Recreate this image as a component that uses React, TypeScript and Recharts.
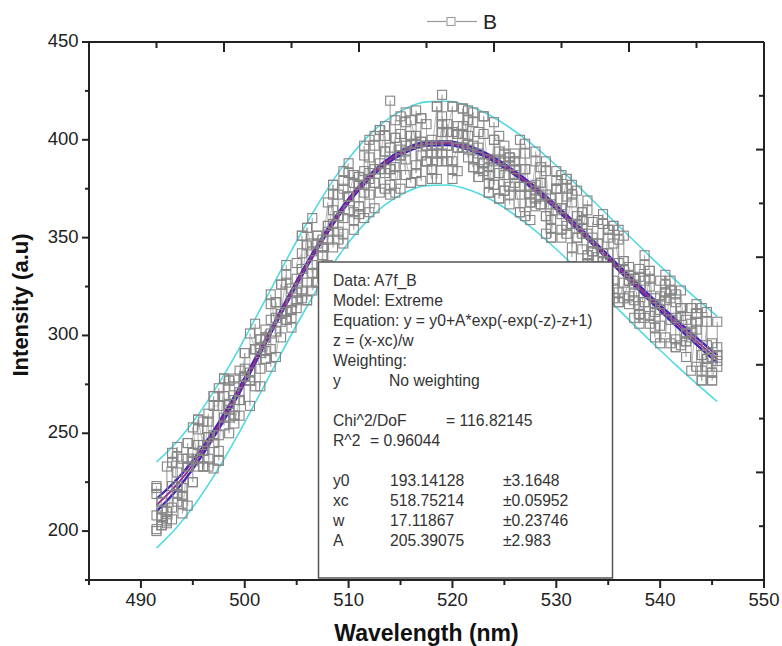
import { ComposedChart, Label, Line, XAxis, YAxis } from "recharts"

// measured spectrum: six readings per wavelength step
const WAVELENGTH = [
  491.5, 492, 492.5, 493, 493.5, 494, 494.5, 495, 495.5, 496, 496.5, 497, 497.5, 498, 498.5, 499, 499.5, 500, 500.5,
  501, 501.5, 502, 502.5, 503, 503.5, 504, 504.5, 505, 505.5, 506, 506.5, 507, 507.5, 508, 508.5, 509, 509.5, 510,
  510.5, 511, 511.5, 512, 512.5, 513, 513.5, 514, 514.5, 515, 515.5, 516, 516.5, 517, 517.5, 518, 518.5, 519, 519.5,
  520, 520.5, 521, 521.5, 522, 522.5, 523, 523.5, 524, 524.5, 525, 525.5, 526, 526.5, 527, 527.5, 528, 528.5, 529,
  529.5, 530, 530.5, 531, 531.5, 532, 532.5, 533, 533.5, 534, 534.5, 535, 535.5, 536, 536.5, 537, 537.5, 538, 538.5,
  539, 539.5, 540, 540.5, 541, 541.5, 542, 542.5, 543, 543.5, 544, 544.5, 545, 545.5,
]
const INTENSITY_A = [
  200, 215, 206, 223, 243, 218, 237, 236, 233, 244,
  260, 269, 264, 278, 258, 259, 267, 291, 281, 293,
  283, 303, 301, 302, 307, 331, 317, 318, 342, 355,
  343, 327, 341, 368, 372, 361, 352, 388, 382, 362,
  384, 400, 378, 405, 407, 385, 401, 395, 382, 378,
  398, 411, 389, 380, 417, 408, 397, 417, 396, 396,
  398, 414, 385, 388, 373, 400, 402, 374, 391, 382,
  363, 385, 368, 389, 378, 361, 350, 379, 382, 380,
  372, 361, 344, 364, 330, 340, 342, 354, 328, 337,
  327, 328, 318, 311, 309, 329, 299, 320, 322, 328,
  321, 295, 289, 299, 311, 277, 307, 296, 290,
]
const INTENSITY_B = [
  201, 211, 210, 235, 215, 222, 213, 240, 244, 241,
  256, 232, 273, 254, 277, 267, 271, 283, 264, 306,
  294, 299, 284, 309, 326, 308, 313, 322, 319, 346,
  332, 347, 345, 356, 377, 361, 347, 383, 359, 366,
  392, 380, 397, 373, 375, 377, 401, 392, 397, 378,
  387, 411, 397, 385, 380, 389, 408, 380, 384, 416,
  391, 409, 396, 384, 378, 377, 370, 389, 387, 385,
  400, 385, 376, 374, 378, 361, 359, 384, 362, 375,
  377, 357, 352, 369, 343, 327, 338, 354, 324, 354,
  338, 328, 326, 315, 336, 333, 304, 296, 331, 319,
  309, 310, 308, 302, 316, 290, 288, 289, 287,
]
const INTENSITY_C = [
  219, 203, 210, 235, 223, 237, 233, 240, 237, 256,
  237, 245, 249, 269, 277, 274, 282, 291, 277, 274,
  298, 299, 293, 317, 299, 308, 304, 314, 351, 318,
  360, 332, 349, 356, 364, 361, 379, 371, 378, 381,
  397, 372, 378, 385, 394, 372, 386, 392, 409, 402,
  383, 379, 397, 400, 397, 393, 389, 404, 403, 396,
  410, 386, 381, 388, 386, 409, 383, 393, 367, 393,
  372, 385, 359, 366, 371, 389, 355, 364, 350, 352,
  368, 350, 363, 341, 347, 347, 357, 350, 319, 317,
  338, 335, 309, 330, 317, 306, 319, 316, 326, 323,
  294, 314, 301, 314, 311, 282, 295, 281, 284,
]
const INTENSITY_D = [
  222, 207, 204, 240, 230, 218, 245, 225, 257, 233,
  248, 249, 236, 278, 250, 278, 259, 279, 277, 293,
  291, 292, 308, 317, 326, 336, 313, 329, 351, 318,
  336, 351, 332, 336, 345, 349, 360, 364, 354, 377,
  373, 363, 385, 385, 402, 420, 382, 375, 394, 402,
  402, 399, 389, 385, 393, 423, 397, 385, 396, 403,
  415, 397, 381, 412, 390, 377, 390, 374, 372, 389,
  363, 398, 376, 370, 367, 352, 370, 375, 354, 371,
  340, 350, 359, 352, 358, 347, 362, 342, 356, 322,
  351, 331, 322, 306, 341, 310, 304, 328, 318, 296,
  294, 314, 297, 314, 284, 314, 288, 281, 294,
]
const INTENSITY_E = [
  223, 203, 233, 212, 238, 214, 245, 225, 252, 241,
  248, 269, 236, 258, 265, 259, 267, 279, 277, 293,
  274, 288, 316, 317, 311, 327, 309, 322, 334, 327,
  347, 351, 341, 353, 377, 372, 375, 371, 382, 366,
  377, 391, 365, 405, 383, 396, 410, 412, 414, 398,
  415, 399, 408, 397, 417, 404, 404, 417, 403, 407,
  402, 386, 404, 403, 382, 389, 370, 397, 391, 389,
  376, 361, 372, 377, 367, 372, 367, 375, 365, 380,
  357, 357, 363, 337, 343, 359, 334, 327, 347, 349,
  334, 320, 329, 311, 328, 325, 316, 305, 322, 308,
  298, 314, 301, 306, 303, 290, 312, 277, 307,
]
const INTENSITY_F = [
  208, 207, 205, 206, 219, 209, 233, 253, 257, 233,
  233, 264, 241, 269, 262, 255, 267, 279, 301, 293,
  298, 288, 321, 289, 311, 312, 324, 337, 323, 355,
  323, 327, 345, 349, 357, 353, 384, 371, 363, 381,
  360, 383, 402, 388, 394, 385, 373, 403, 390, 410,
  383, 392, 389, 393, 389, 412, 404, 389, 407, 416,
  395, 390, 393, 412, 373, 400, 394, 382, 376, 378,
  376, 393, 368, 394, 386, 384, 350, 375, 365, 356,
  345, 374, 355, 341, 350, 332, 325, 327, 356, 317,
  319, 316, 329, 334, 317, 333, 312, 313, 299, 323,
  317, 323, 297, 282, 307, 277, 284, 277, 290,
]

// extreme-function fit with its 95% confidence and prediction bands
const FIT_WAVELENGTH = [
  491.5, 493.5, 495.5, 497.5, 499.5, 501.5, 503.5, 505.5, 507.5, 509.5, 511.5, 513.5, 515.5, 517.5, 519.5, 521.5,
  523.5, 525.5, 527.5, 529.5, 531.5, 533.5, 535.5, 537.5, 539.5, 541.5, 543.5, 545.5,
]
const FIT = [
  213.3, 224.0, 237.6, 253.9, 272.2, 292.0, 312.1, 331.6, 349.6, 365.4, 378.3, 388.1, 394.6, 398.0, 398.3, 396.0,
  391.4, 384.9, 377.0, 367.9, 358.0, 347.7, 337.2, 326.8, 316.5, 306.6, 297.1, 288.0,
]
const CONF_UPPER = [
  216.5, 226.6, 239.7, 255.6, 273.6, 293.2, 313.2, 332.6, 350.6, 366.4, 379.3, 389.1, 395.6, 399.0, 399.3, 397.0,
  392.4, 385.9, 378.0, 368.9, 359.1, 348.8, 338.4, 328.1, 317.9, 308.2, 298.9, 290.0,
]
const CONF_LOWER = [
  210.1, 221.4, 235.5, 252.2, 270.8, 290.8, 311.0, 330.6, 348.6, 364.4, 377.3, 387.1, 393.6, 397.0, 397.3, 395.0,
  390.4, 383.9, 376.0, 366.9, 356.9, 346.6, 336.0, 325.5, 315.1, 305.0, 295.3, 286.0,
]
const PRED_UPPER = [
  235.3, 245.8, 259.3, 275.5, 293.7, 313.5, 333.5, 353.0, 371.0, 386.8, 399.7, 409.5, 416.0, 419.4, 419.7, 417.4,
  412.8, 406.3, 398.4, 389.3, 379.4, 369.1, 358.6, 348.3, 338.0, 328.2, 318.8, 309.8,
]
const PRED_LOWER = [
  191.3, 202.2, 215.9, 232.3, 250.7, 270.5, 290.7, 310.2, 328.2, 344.0, 356.9, 366.7, 373.2, 376.6, 376.9, 374.6,
  370.0, 363.5, 355.6, 346.5, 336.6, 326.3, 315.8, 305.3, 295.0, 285.0, 275.4, 266.2,
]

const X_TICKS = [485, 490, 495, 500, 505, 510, 515, 520, 525, 530, 535, 540, 545, 550]
const Y_TICKS = [175, 200, 225, 250, 275, 300, 325, 350, 375, 400, 425, 450]
const TOP_TICKS = [491.5, 498, 504.5, 511, 517.5, 524, 530.5, 537, 543.5]
const TOP_MAJOR = [498, 511, 524, 537]
const RIGHT_TICKS = [422.5, 395, 367.5, 340, 312.5, 285, 257.5, 230, 202.5]
const RIGHT_MAJOR = [395, 340, 285, 230]

const STATS_LINES = [
  "Data: A7f_B",
  "Model: Extreme",
  "Equation: y = y0+A*exp(-exp(-z)-z+1)",
  "z = (x-xc)/w",
  "Weighting:",
]
const PARAMS = [
  ["y0", "193.14128", "±3.1648"],
  ["xc", "518.75214", "±0.05952"],
  ["w", "17.11867", "±0.23746"],
  ["A", "205.39075", "±2.983"],
]

const FONT = "'Liberation Sans', Arial, Helvetica, sans-serif"
const AXIS = "#222"

const scatterRows = WAVELENGTH.flatMap((wl, i) =>
  [INTENSITY_A[i], INTENSITY_B[i], INTENSITY_C[i], INTENSITY_D[i], INTENSITY_E[i], INTENSITY_F[i]].map((v) => ({
    wl,
    intensity: v,
  }))
)
const fitRows = FIT_WAVELENGTH.map((wl, i) => ({
  wl,
  fit: FIT[i],
  confUp: CONF_UPPER[i],
  confLo: CONF_LOWER[i],
  predUp: PRED_UPPER[i],
  predLo: PRED_LOWER[i],
}))

const squareDot = (props: any) => {
  const { cx, cy, index } = props
  if (cx == null || cy == null) return <g key={`sq${index}`} />
  return (
    <rect key={`sq${index}`} x={cx - 4.5} y={cy - 4.5} width={9} height={9} fill="none" stroke="#858585" strokeWidth={1.1} />
  )
}

const BottomTick = (props: any) => {
  const { x, y, payload } = props
  const major = payload.value % 10 === 0
  return (
    <g>
      <line x1={x} x2={x} y1={y} y2={y + (major ? 8 : 5)} stroke={AXIS} strokeWidth={2} />
      {major && (
        <text x={x} y={y + 26} textAnchor="middle" fontSize={18.5} fill={AXIS} fontFamily={FONT}>
          {payload.value}
        </text>
      )}
    </g>
  )
}

const LeftTick = (props: any) => {
  const { x, y, payload } = props
  const major = payload.value % 50 === 0
  return (
    <g>
      <line x1={x} x2={x - (major ? 7 : 4)} y1={y} y2={y} stroke={AXIS} strokeWidth={2} />
      {major && (
        <text x={x - 10.5} y={y + 5} textAnchor="end" fontSize={18.5} fill={AXIS} fontFamily={FONT}>
          {payload.value}
        </text>
      )}
    </g>
  )
}

const TopTick = (props: any) => {
  const { x, y, payload } = props
  const major = TOP_MAJOR.includes(payload.value)
  return <line x1={x} x2={x} y1={y} y2={y + (major ? 10 : 6)} stroke={AXIS} strokeWidth={2} />
}

const RightTick = (props: any) => {
  const { x, y, payload } = props
  const major = RIGHT_MAJOR.includes(payload.value)
  return <line x1={x} x2={x - (major ? 8 : 5)} y1={y} y2={y} stroke={AXIS} strokeWidth={2} />
}

export default function App() {
  return (
    <div style={{ position: "absolute", left: 0, top: 0, width: 782, height: 646, background: "#fff", fontFamily: FONT }}>
      <ComposedChart width={782} height={646} margin={{ top: 41, right: 17, bottom: 0, left: 0 }}>
        <XAxis
          type="number"
          dataKey="wl"
          domain={[485, 550]}
          allowDataOverflow
          ticks={X_TICKS}
          interval={0}
          height={66}
          tickSize={0}
          tickMargin={0}
          tickLine={false}
          tick={BottomTick}
          axisLine={{ stroke: AXIS, strokeWidth: 2 }}
        >
          <Label
            content={(p: any) => {
              const vb = p.viewBox
              return (
                <text
                  x={vb.x + vb.width / 2}
                  y={641}
                  textAnchor="middle"
                  fontSize={23}
                  fontWeight="bold"
                  fill="#111"
                  fontFamily={FONT}
                >
                  Wavelength (nm)
                </text>
              )
            }}
          />
        </XAxis>
        <XAxis
          xAxisId="top"
          orientation="top"
          type="number"
          dataKey="wl"
          domain={[485, 550]}
          allowDataOverflow
          ticks={TOP_TICKS}
          interval={0}
          height={1}
          tickSize={0}
          tickMargin={0}
          tickLine={false}
          tick={TopTick}
          axisLine={{ stroke: AXIS, strokeWidth: 2 }}
        />
        <YAxis
          type="number"
          domain={[175, 450]}
          allowDataOverflow
          ticks={Y_TICKS}
          interval={0}
          width={89}
          tickSize={0}
          tickMargin={0}
          tickLine={false}
          tick={LeftTick}
          axisLine={{ stroke: AXIS, strokeWidth: 2 }}
        >
          <Label
            content={() => (
              <text
                x={28}
                y={305}
                transform="rotate(-90, 28, 305)"
                textAnchor="middle"
                fontSize={22}
                fontWeight="bold"
                fill="#111"
                fontFamily={FONT}
              >
                Intensity (a.u)
              </text>
            )}
          />
        </YAxis>
        <YAxis
          yAxisId="right"
          orientation="right"
          type="number"
          domain={[175, 450]}
          allowDataOverflow
          ticks={RIGHT_TICKS}
          interval={0}
          width={1}
          tickSize={0}
          tickMargin={0}
          tickLine={false}
          tick={RightTick}
          axisLine={{ stroke: AXIS, strokeWidth: 2 }}
        />

        <Line
          data={scatterRows}
          dataKey="intensity"
          type="linear"
          stroke="#a8a8a8"
          strokeWidth={0.8}
          dot={squareDot}
          activeDot={false}
          isAnimationActive={false}
        />
        <Line data={fitRows} dataKey="predUp" type="monotone" stroke="#52dae2" strokeWidth={1.6} dot={false} activeDot={false} isAnimationActive={false} />
        <Line data={fitRows} dataKey="predLo" type="monotone" stroke="#52dae2" strokeWidth={1.6} dot={false} activeDot={false} isAnimationActive={false} />
        <Line data={fitRows} dataKey="confUp" type="monotone" stroke="#4028b4" strokeWidth={2.4} dot={false} activeDot={false} isAnimationActive={false} />
        <Line data={fitRows} dataKey="confLo" type="monotone" stroke="#4028b4" strokeWidth={2.4} dot={false} activeDot={false} isAnimationActive={false} />
        <Line data={fitRows} dataKey="fit" type="monotone" stroke="#9a2f88" strokeWidth={2} dot={false} activeDot={false} isAnimationActive={false} />
      </ComposedChart>

      <svg width={782} height={646} style={{ position: "absolute", left: 0, top: 0, pointerEvents: "none" }}>
        {/* legend */}
        <line x1={427} x2={446} y1={21.5} y2={21.5} stroke="#9a9a9a" strokeWidth={1.2} />
        <rect x={447} y={17.5} width={8} height={8} fill="none" stroke="#9a9a9a" strokeWidth={1.1} />
        <line x1={456} x2={477} y1={21.5} y2={21.5} stroke="#9a9a9a" strokeWidth={1.2} />
        <text x={483} y={28.5} fontSize={21} fill="#222" fontFamily={FONT}>
          B
        </text>

        {/* fit report */}
        <rect x={318.5} y={262} width={294} height={316} fill="#fff" stroke="#555" strokeWidth={1.5} />
        <g fontSize={15.7} fill="#333" fontFamily={FONT}>
          {STATS_LINES.map((t, i) => (
            <text key={t} x={333} y={285.5 + i * 20}>
              {t}
            </text>
          ))}
          <text x={333} y={385.5}>y</text>
          <text x={389} y={385.5}>No weighting</text>
          <text x={333} y={425.5}>Chi^2/DoF</text>
          <text x={446} y={425.5}>= 116.82145</text>
          <text x={333} y={445.5}>R^2</text>
          <text x={370} y={445.5}>= 0.96044</text>
          {PARAMS.map((p, i) => (
            <g key={p[0]}>
              <text x={333} y={485.5 + i * 20}>{p[0]}</text>
              <text x={390} y={485.5 + i * 20}>{p[1]}</text>
              <text x={503} y={485.5 + i * 20}>{p[2]}</text>
            </g>
          ))}
        </g>
      </svg>
    </div>
  )
}
